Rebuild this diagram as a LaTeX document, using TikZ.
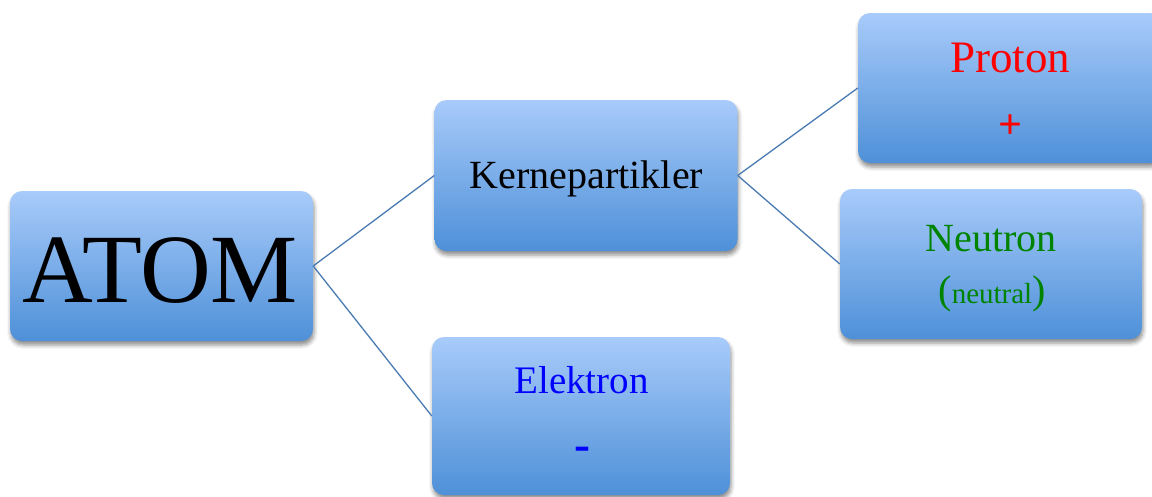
\documentclass[tikz,border=0pt]{standalone}
\usepackage{fontspec}
\setmainfont{Liberation Serif}
\usetikzlibrary{shadows.blur}
\definecolor{boxtop}{RGB}{168,203,250}
\definecolor{boxbottom}{RGB}{78,144,216}
\definecolor{strekfarge}{RGB}{74,122,178}
\definecolor{groenn}{RGB}{0,132,0}
\tikzset{
	boks/.style={draw=none, rounded corners=12pt, top color=boxtop, bottom color=boxbottom, inner sep=0pt,
		blur shadow={shadow xshift=1pt, shadow yshift=-4pt, shadow blur radius=4pt, shadow opacity=45}},
	strek/.style={line width=1.3pt, color=strekfarge},
	tekst/.style={anchor=base, inner sep=0pt}
}

\begin{document}
\begin{tikzpicture}[x=1pt, y=-1pt]
			%%%%% START %%%%%
			\useasboundingbox (0, 0) rectangle (1152, 496);
			
			\node[boks, minimum width=303pt, minimum height=150pt] (atom) at (161.5, 266) {};
			\node[boks, minimum width=303pt, minimum height=151pt] (kjerne) at (586, 175.5) {};
			\node[boks, minimum width=304pt, minimum height=150pt] (proton) at (1010, 88) {};
			\node[boks, minimum width=302pt, minimum height=150pt] (noytron) at (991, 264) {};
			\node[boks, minimum width=298pt, minimum height=158pt] (elektron) at (581, 416) {};
			
			\draw[strek] (atom.east) -- (kjerne.west);
			\draw[strek] (atom.east) -- (elektron.west);
			\draw[strek] (kjerne.east) -- (proton.west);
			\draw[strek] (kjerne.east) -- (noytron.west);
			
			\node[tekst] (atomnavn) at (160, 302) {\fontsize{98}{100}\selectfont ATOM};
			\node[tekst] (kjernenavn) at (586.5, 188) {\fontsize{40}{44}\selectfont Kernepartikler};
			
			\node[tekst, color=red] (protonnavn) at (1010, 72) {\fontsize{45}{50}\selectfont Proton};
			\node[tekst, color=red] (protonpluss) at (1010, 138) {\fontsize{42}{46}\selectfont\bfseries +};
			
			\node[tekst, color=groenn] (noytronnavn) at (991, 251) {\fontsize{40}{44}\selectfont Neutron};
			\node[tekst, color=groenn] (noytronladning) at (992, 303) {\fontsize{40}{44}\selectfont (\fontsize{29}{32}\selectfont neutral\fontsize{40}{44}\selectfont )};
			
			\node[tekst, color=blue] (elektronnavn) at (581.5, 393) {\fontsize{39}{43}\selectfont Elektron};
			\node[tekst, color=blue] (elektronminus) at (582, 460) {\fontsize{48}{52}\selectfont\bfseries -};
			%%%%% END %%%%%
\end{tikzpicture}
\end{document}
